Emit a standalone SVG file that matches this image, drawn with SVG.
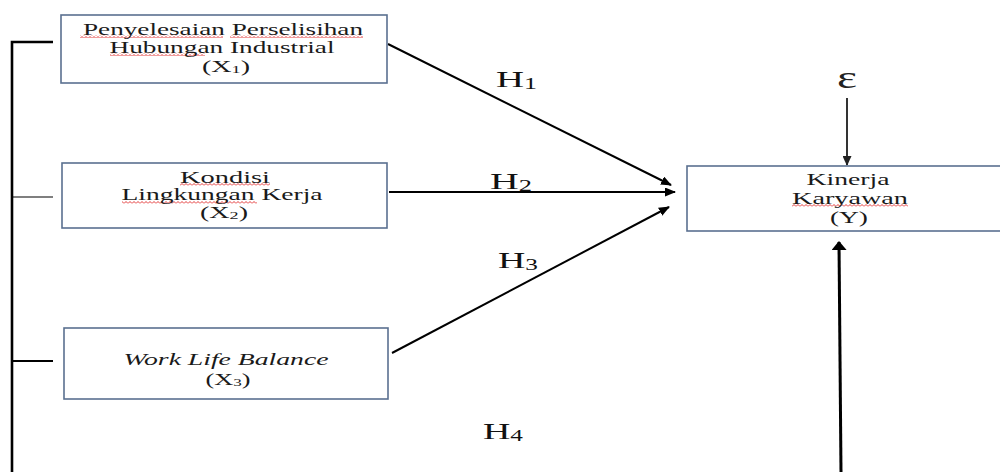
<svg xmlns="http://www.w3.org/2000/svg" width="1000" height="472" viewBox="0 0 1000 472">
<defs>
<style>
.box{fill:#fff;stroke:#5a7090;stroke-width:1.6}
.t{font-family:"Liberation Serif","Times New Roman",serif;font-size:17px;fill:#1a1a1a;text-anchor:middle}
.h{font-family:"Liberation Serif","Times New Roman",serif;font-size:24px;fill:#111;text-anchor:start}
.ln{stroke:#000;fill:none}
.sq{fill:url(#wave)}
</style>
<pattern id="wave" width="4" height="3" patternUnits="userSpaceOnUse">
<path d="M0 2.5 L2 0.5 L4 2.5" fill="none" stroke="#e02020" stroke-width="0.9"/>
</pattern>
<marker id="ah" markerWidth="11" markerHeight="9" refX="10" refY="4.5" orient="auto" markerUnits="userSpaceOnUse">
<path d="M0 0 L11 4.5 L0 9 Z" fill="#000"/>
</marker>
<marker id="ahs" markerWidth="10" markerHeight="9" refX="9" refY="4.5" orient="auto" markerUnits="userSpaceOnUse">
<path d="M0 0 L10 4.5 L0 9 Z" fill="#222"/>
</marker>
<marker id="ahb" markerWidth="9" markerHeight="15" refX="8" refY="7.5" orient="auto" markerUnits="userSpaceOnUse">
<path d="M0 0 L9 7.5 L0 15 Z" fill="#000"/>
</marker>
</defs>
<rect width="1000" height="472" fill="#fff"/>

<g id="connectors">
<path class="ln" d="M12 472 L12 42 L53 42" stroke-width="2.6"/>
<path class="ln" d="M12 197 L53 197" stroke-width="1.2"/>
<path class="ln" d="M12 361 L53 361" stroke-width="2"/>
<line class="ln" x1="388" y1="44" x2="671" y2="185" stroke-width="2" marker-end="url(#ah)"/>
<line class="ln" x1="389" y1="192" x2="675" y2="192" stroke-width="2" marker-end="url(#ah)"/>
<line class="ln" x1="392" y1="353" x2="669" y2="207" stroke-width="2" marker-end="url(#ah)"/>
<line class="ln" x1="847" y1="98" x2="847" y2="165" stroke="#222" stroke-width="1.6" marker-end="url(#ahs)"/>
<line class="ln" x1="841" y1="472" x2="839" y2="242" stroke-width="3" marker-end="url(#ahb)"/>
<text class="h" x="496" y="87" textLength="41" lengthAdjust="spacingAndGlyphs">H<tspan font-size="16" dy="2">1</tspan></text>
<text class="h" x="490" y="189" textLength="42" lengthAdjust="spacingAndGlyphs">H<tspan font-size="16" dy="2">2</tspan></text>
<text class="h" x="498" y="268" textLength="40" lengthAdjust="spacingAndGlyphs">H<tspan font-size="16" dy="2">3</tspan></text>
<text class="h" x="483" y="439" textLength="40" lengthAdjust="spacingAndGlyphs">H<tspan font-size="16" dy="2">4</tspan></text>
<text x="837" y="88" font-family="Liberation Serif, serif" font-size="32" fill="#222" textLength="20" lengthAdjust="spacingAndGlyphs">ε</text>
</g>

<g id="x1">
<rect class="box" x="61" y="15" width="326" height="68"/>
<rect class="sq" x="80" y="35" width="143" height="3"/>
<rect class="sq" x="230" y="35" width="133" height="3"/>
<rect class="sq" x="110" y="53" width="95" height="3"/>
<text class="t" x="223" y="35" textLength="280" lengthAdjust="spacingAndGlyphs">Penyelesaian Perselisihan</text>
<text class="t" x="222" y="53" textLength="225" lengthAdjust="spacingAndGlyphs">Hubungan Industrial</text>
<text class="t" x="226" y="72" textLength="48" lengthAdjust="spacingAndGlyphs">(X<tspan font-size="11" dy="1">1</tspan><tspan dy="-1">)</tspan></text>
</g>

<g id="x2">
<rect class="box" x="62" y="163" width="325" height="65"/>
<rect class="sq" x="180" y="183" width="90" height="3"/>
<rect class="sq" x="122" y="201" width="135" height="3"/>
<text class="t" x="225" y="183" textLength="90" lengthAdjust="spacingAndGlyphs">Kondisi</text>
<text class="t" x="222" y="200" textLength="201" lengthAdjust="spacingAndGlyphs">Lingkungan Kerja</text>
<text class="t" x="224" y="218" textLength="48" lengthAdjust="spacingAndGlyphs">(X<tspan font-size="11" dy="1">2</tspan><tspan dy="-1">)</tspan></text>
</g>

<g id="x3">
<rect class="box" x="64" y="328" width="324" height="71"/>
<text class="t" x="226" y="365" font-style="italic" textLength="205" lengthAdjust="spacingAndGlyphs">Work Life Balance</text>
<text class="t" x="228" y="385" textLength="45" lengthAdjust="spacingAndGlyphs">(X<tspan font-size="11" dy="1">3</tspan><tspan dy="-1">)</tspan></text>
</g>

<g id="y">
<rect class="box" x="687" y="166" width="320" height="65"/>
<rect class="sq" x="792" y="204" width="116" height="3"/>
<text class="t" x="848" y="185" textLength="83" lengthAdjust="spacingAndGlyphs">Kinerja</text>
<text class="t" x="850" y="204" textLength="116" lengthAdjust="spacingAndGlyphs">Karyawan</text>
<text class="t" x="849" y="223" textLength="38" lengthAdjust="spacingAndGlyphs">(Y)</text>
</g>
</svg>
